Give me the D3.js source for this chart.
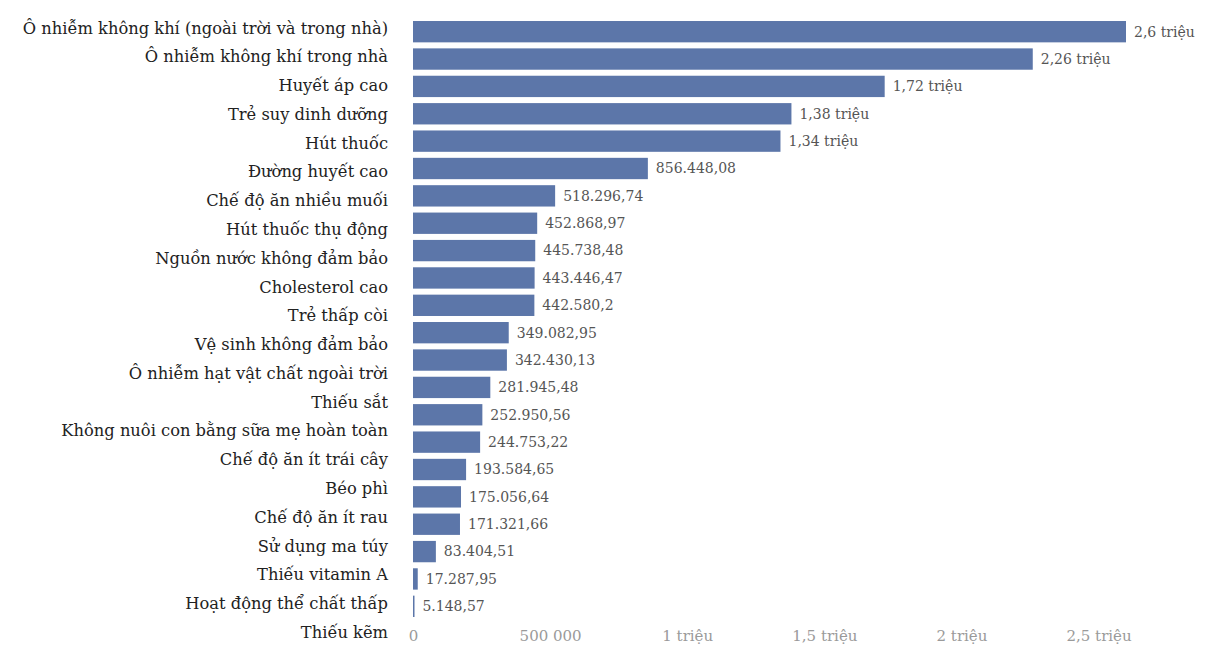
<!DOCTYPE html>
<html lang="vi">
<head>
<meta charset="utf-8">
<script src="https://cdn.jsdelivr.net/npm/d3@7"></script>
<style>
  html, body { margin: 0; padding: 0; background: #fff; }
  svg { display: block; }
</style>
</head>
<body>
<svg id="chart" width="1218" height="666"></svg>
<script>
// Số ca tử vong theo yếu tố nguy cơ
const riskFactors = [
  "Ô nhiễm không khí (ngoài trời và trong nhà)",
  "Ô nhiễm không khí trong nhà",
  "Huyết áp cao",
  "Trẻ suy dinh dưỡng",
  "Hút thuốc",
  "Đường huyết cao",
  "Chế độ ăn nhiều muối",
  "Hút thuốc thụ động",
  "Nguồn nước không đảm bảo",
  "Cholesterol cao",
  "Trẻ thấp còi",
  "Vệ sinh không đảm bảo",
  "Ô nhiễm hạt vật chất ngoài trời",
  "Thiếu sắt",
  "Không nuôi con bằng sữa mẹ hoàn toàn",
  "Chế độ ăn ít trái cây",
  "Béo phì",
  "Chế độ ăn ít rau",
  "Sử dụng ma túy",
  "Thiếu vitamin A",
  "Hoạt động thể chất thấp",
  "Thiếu kẽm"
];

const deaths = [
  2600000, 2260000, 1720000, 1380000, 1340000,
  856448.08, 518296.74, 452868.97, 445738.48, 443446.47,
  442580.2, 349082.95, 342430.13, 281945.48, 252950.56,
  244753.22, 193584.65, 175056.64, 171321.66, 83404.51,
  17287.95, 5148.57
];

const tickValues = [0, 500000, 1000000, 1500000, 2000000, 2500000];
const tickLabels = ["0", "500 000", "1 triệu", "1,5 triệu", "2 triệu", "2,5 triệu"];

const rows = riskFactors.map((name, i) => ({ name, value: deaths[i] }));

const svg = d3.select("#chart");
const FONT = "'DejaVu Serif', 'Liberation Serif', serif";

const vi = d3.formatLocale({ decimal: ",", thousands: ".", grouping: [3], currency: ["", " ₫"] });
const fmtNum = vi.format(",.2~f");
const fmtValue = v => v >= 1e6 ? fmtNum(v / 1e6) + " triệu" : fmtNum(v);

const x = d3.scaleLinear().domain([0, 2600000]).range([413, 1126]);

// bar rows
const y = d3.scaleBand()
  .domain(riskFactors)
  .range([18, 620])
  .paddingInner(0.22)
  .paddingOuter(0.11);

// name column has a slightly looser rhythm
const yName = d3.scaleBand()
  .domain(riskFactors)
  .range([13.5, 646.5]);

// bars
svg.append("g")
  .selectAll("rect")
  .data(rows)
  .join("rect")
  .attr("x", x(0))
  .attr("y", d => y(d.name))
  .attr("width", d => Math.max(1.5, x(d.value) - x(0)))
  .attr("height", y.bandwidth())
  .attr("fill", "#5c76a9");

// value labels
svg.append("g")
  .selectAll("text")
  .data(rows)
  .join("text")
  .attr("x", d => x(d.value) + 8)
  .attr("y", d => y(d.name) + y.bandwidth() / 2)
  .attr("dy", "0.35em")
  .attr("font-family", FONT)
  .attr("font-size", 14)
  .attr("fill", "#555")
  .text(d => fmtValue(d.value));

// category labels
svg.append("g")
  .selectAll("text")
  .data(rows)
  .join("text")
  .attr("x", 388)
  .attr("y", d => yName(d.name) + yName.bandwidth() / 2)
  .attr("dy", "0.35em")
  .attr("text-anchor", "end")
  .attr("font-family", FONT)
  .attr("font-size", 16.3)
  .attr("fill", "#222")
  .text(d => d.name);

// x axis
const axis = d3.axisBottom(x)
  .tickValues(tickValues)
  .tickFormat((d, i) => tickLabels[i])
  .tickSize(0)
  .tickPadding(3);

const gx = svg.append("g")
  .attr("transform", "translate(0,627)")
  .call(axis);
gx.select(".domain").remove();
gx.selectAll("text")
  .attr("font-family", FONT)
  .attr("font-size", 15)
  .attr("fill", "#9a9a9a");
</script>
</body>
</html>
